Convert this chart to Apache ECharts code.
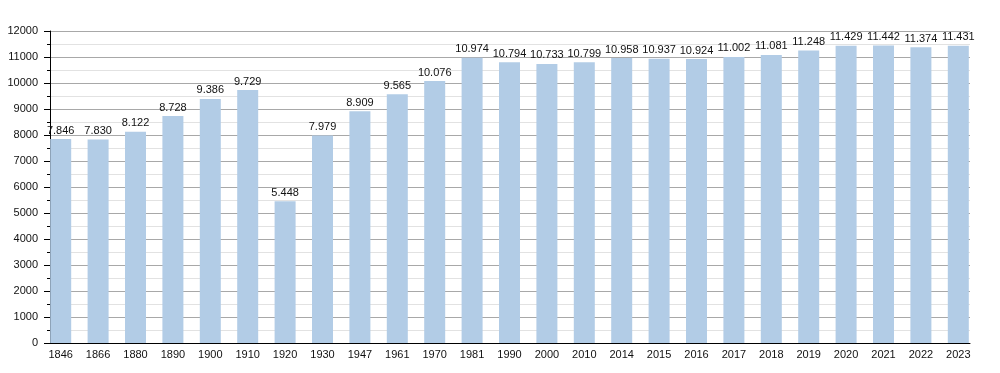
<!DOCTYPE html>
<html>
<head>
<meta charset="utf-8">
<script src="https://cdn.jsdelivr.net/npm/echarts@6/dist/echarts.min.js"></script>
<style>
html,body{margin:0;padding:0;background:#fff;}
#chart{width:1000px;height:373px;}
</style>
</head>
<body>
<div id="chart"></div>
<script>
const categories = ['1846','1866','1880','1890','1900','1910','1920','1930','1947','1961','1970','1981','1990','2000','2010','2014','2015','2016','2017','2018','2019','2020','2021','2022','2023'];
const population = [7846,7830,8122,8728,9386,9729,5448,7979,8909,9565,10076,10974,10794,10733,10799,10958,10937,10924,11002,11081,11248,11429,11442,11374,11431];
const yTicks = [0,1000,2000,3000,4000,5000,6000,7000,8000,9000,10000,11000,12000];

const FONT = '"Liberation Sans", Arial, Helvetica, sans-serif';
function fmt(v){ return String(v).replace(/\B(?=(\d{3})+(?!\d))/g, '.'); }

const chart = echarts.init(document.getElementById('chart'), null, {renderer:'canvas'});
chart.setOption({
  animation:false,
  backgroundColor:'#fff',
  grid:[
    {left:42, right:23, top:31, bottom:30},
    {left:50, right:30, top:31, bottom:30}
  ],
  xAxis:[
    {gridIndex:0, type:'category', data:categories,
     axisLine:{show:false}, axisTick:{show:false},
     axisLabel:{color:'#111', fontSize:11, fontFamily:FONT, margin:6}},
    {gridIndex:1, type:'value', min:0, max:1,
     axisLine:{show:true, lineStyle:{color:'#000', width:1}},
     axisTick:{show:false}, axisLabel:{show:false}, splitLine:{show:false}}
  ],
  yAxis:[
    {gridIndex:0, type:'value', min:yTicks[0], max:yTicks[yTicks.length-1], show:false, splitLine:{show:false}},
    {gridIndex:1, type:'value', min:yTicks[0], max:yTicks[yTicks.length-1], interval:1000,
     axisLine:{show:true, lineStyle:{color:'#000', width:1}},
     axisTick:{show:true, length:6, lineStyle:{color:'#000'}},
     minorTick:{show:true, splitNumber:2, length:3, lineStyle:{color:'#000'}},
     axisLabel:{color:'#111', fontSize:11, fontFamily:FONT, margin:12, formatter:v=>String(v)},
     splitLine:{show:true, lineStyle:{color:'#a8a8a8', width:1}},
     minorSplitLine:{show:true, lineStyle:{color:'#e2e2e2', width:1}}}
  ],
  series:[{
    type:'bar', xAxisIndex:0, yAxisIndex:0,
    data:population, barWidth:21,
    itemStyle:{color:'#b2cce6'},
    label:{show:true, position:'top', distance:3, color:'#111', fontSize:11, fontFamily:FONT,
      formatter:p=>fmt(p.value)}
  }]
});
</script>
</body>
</html>
